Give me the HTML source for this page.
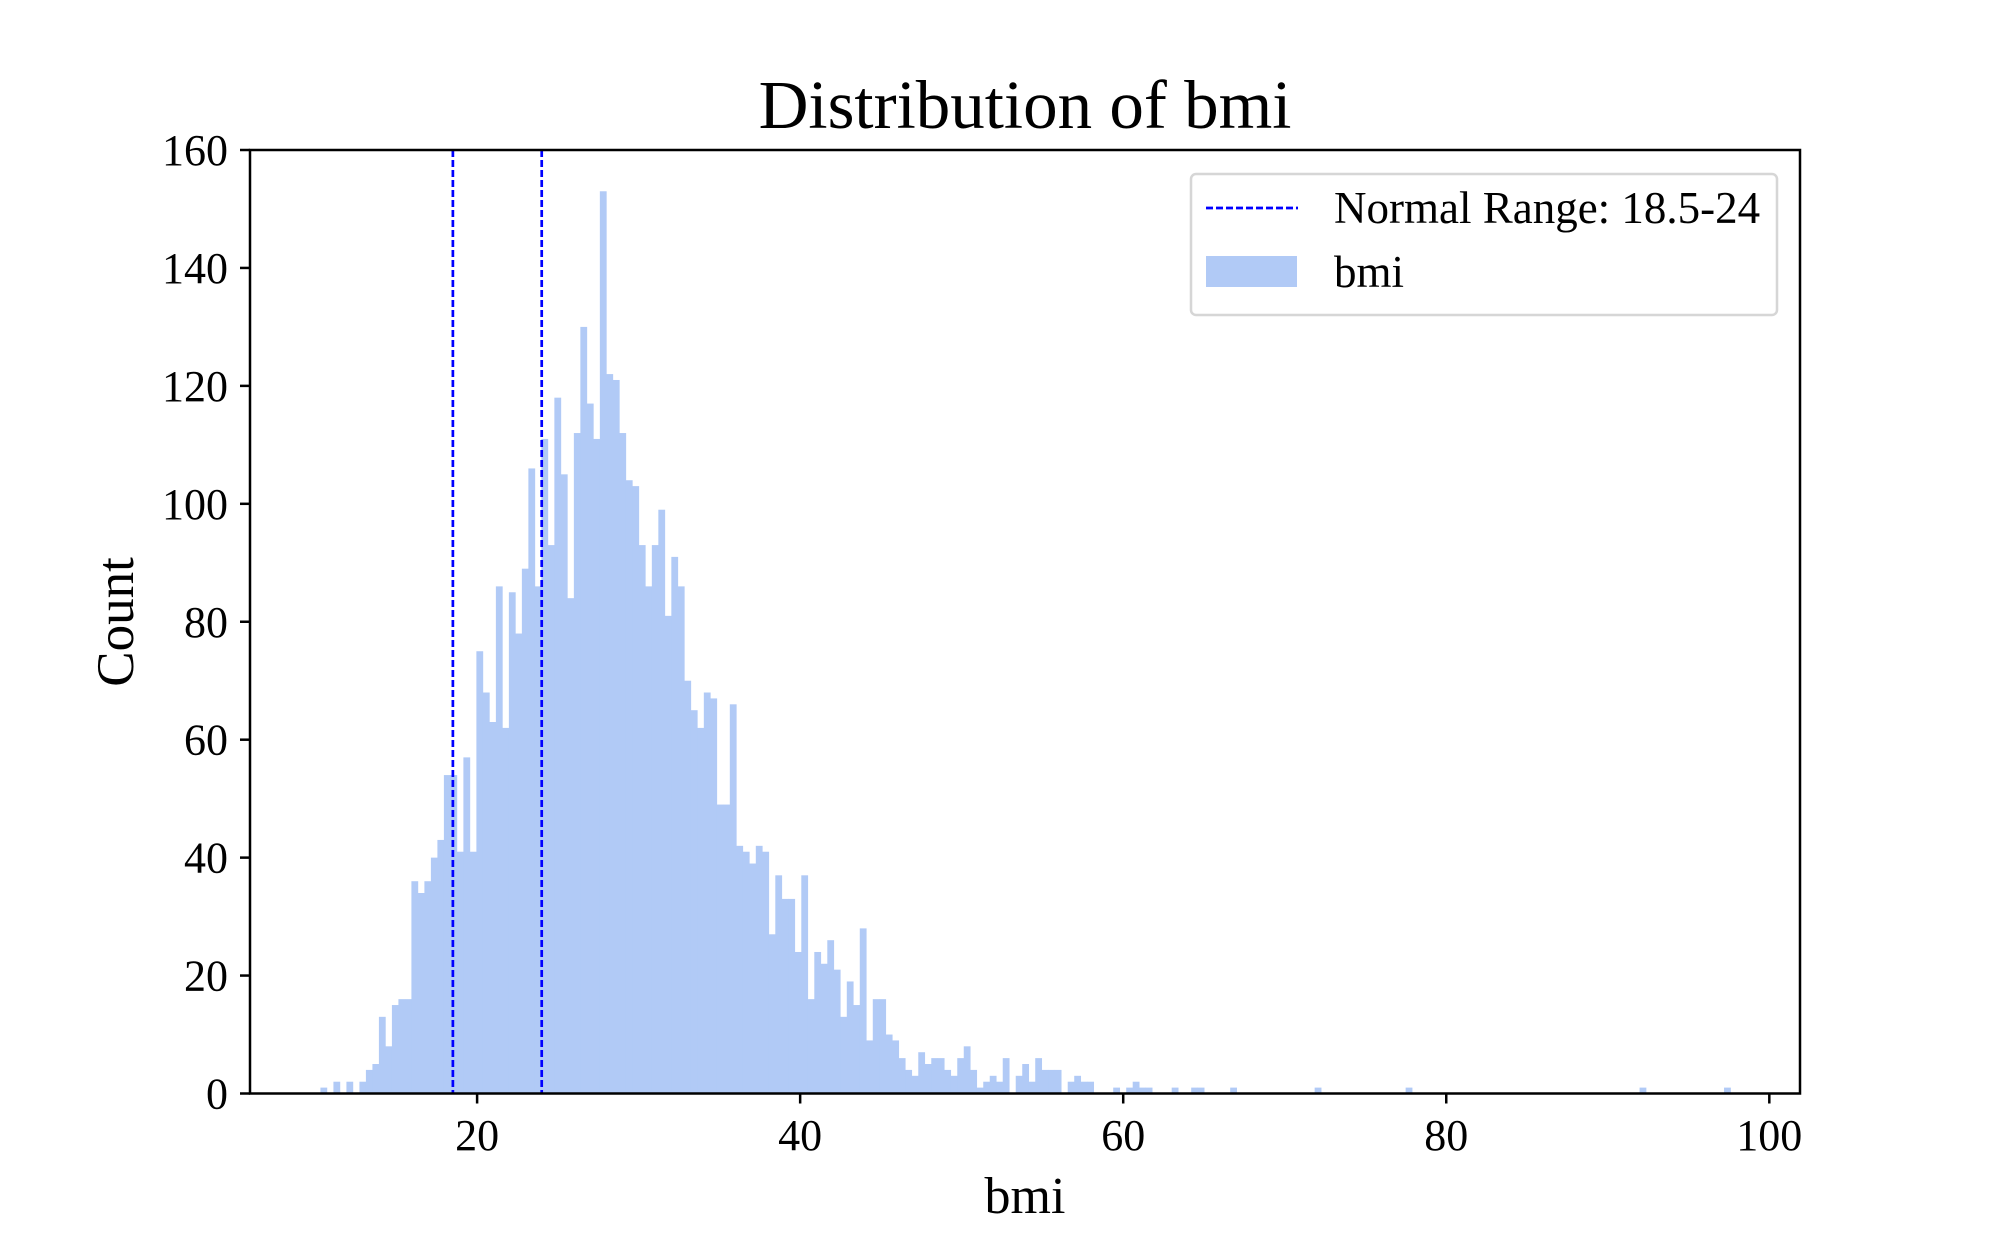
<!DOCTYPE html>
<html>
<head>
<meta charset="utf-8">
<style>
  html, body { margin: 0; padding: 0; background: #ffffff; }
  svg { display: block; }
  text { font-family: "Liberation Serif", "DejaVu Serif", serif; fill: #000; }
</style>
</head>
<body>
<svg id="chart" width="2000" height="1250" viewBox="0 0 2000 1250" xmlns="http://www.w3.org/2000/svg">
  <rect x="0" y="0" width="2000" height="1250" fill="#ffffff"/>
  <text x="1025" y="128" font-size="69" text-anchor="middle">Distribution of bmi</text>
  <g id="bars"></g>
  <g id="vlines"></g>
  <g id="yticks"></g>
  <g id="xticks"></g>
  <rect x="250" y="150" width="1550" height="943.5" fill="none" stroke="#000" stroke-width="2.5"/>
  <text x="1025" y="1213" font-size="52" text-anchor="middle">bmi</text>
  <text x="0" y="0" font-size="53" text-anchor="middle" transform="translate(133,622) rotate(-90)">Count</text>
  <g>
    <rect x="1191" y="174" width="586" height="141" rx="5" fill="#ffffff" fill-opacity="0.8" stroke="#d6d6d6" stroke-width="2.5"/>
    <line x1="1206" y1="208" x2="1298" y2="208" stroke="#0000ff" stroke-width="2.7" stroke-dasharray="7,3"/>
    <text x="1334" y="223" font-size="45">Normal Range: 18.5-24</text>
    <rect x="1206" y="256" width="91" height="31" fill="#b1caf6"/>
    <text x="1334" y="287" font-size="45">bmi</text>
  </g>
</svg>
<script>
const binMin = 10.3;
const binMax = 97.6;
const counts = [1,0,2,0,2,0,2,4,5,13,8,15,16,16,36,34,36,40,43,54,54,41,57,41,75,68,63,86,62,85,78,89,106,86,111,93,118,105,84,112,130,117,111,153,122,121,112,104,103,93,86,93,99,81,91,86,70,65,62,68,67,49,49,66,42,41,39,42,41,27,37,33,33,24,37,16,24,22,26,21,13,19,15,28,9,16,16,10,9,6,4,3,7,5,6,6,4,3,6,8,4,1,2,3,2,6,0,3,5,2,6,4,4,4,0,2,3,2,2,0,0,0,1,0,1,2,1,1,0,0,0,1,0,0,1,1,0,0,0,0,1,0,0,0,0,0,0,0,0,0,0,0,0,1,0,0,0,0,0,0,0,0,0,0,0,0,0,1,0,0,0,0,0,0,0,0,0,0,0,0,0,0,0,0,0,0,0,0,0,0,0,0,0,0,0,0,0,0,0,0,0,0,0,1,0,0,0,0,0,0,0,0,0,0,0,0,1];
const normalRange = [18.5, 24];
const yTicks = [0, 20, 40, 60, 80, 100, 120, 140, 160];
const xTicks = [20, 40, 60, 80, 100];

const NS = 'http://www.w3.org/2000/svg';
const X0 = 250, X1 = 1800, Y0 = 1093.5, Y1 = 150;
const xDomain = [5.94, 101.9];
const yDomain = [0, 160];
function xScale(v) { return X0 + (v - xDomain[0]) / (xDomain[1] - xDomain[0]) * (X1 - X0); }
function yScale(v) { return Y0 - (v - yDomain[0]) / (yDomain[1] - yDomain[0]) * (Y0 - Y1); }

const barsG = document.getElementById('bars');
const nb = counts.length;
const bw = (binMax - binMin) / nb;
counts.forEach((c, i) => {
  if (c <= 0) return;
  const xa = xScale(binMin + i * bw), xb = xScale(binMin + (i + 1) * bw);
  const r = document.createElementNS(NS, 'rect');
  r.setAttribute('x', xa);
  r.setAttribute('width', xb - xa + 0.3);
  r.setAttribute('y', yScale(c));
  r.setAttribute('height', Y0 - yScale(c));
  r.setAttribute('fill', '#b1caf6');
  
  
  barsG.appendChild(r);
});

const vG = document.getElementById('vlines');
normalRange.forEach((v, i) => {
  const l = document.createElementNS(NS, 'line');
  l.setAttribute('x1', xScale(v)); l.setAttribute('x2', xScale(v));
  l.setAttribute('y1', Y1); l.setAttribute('y2', Y0);
  l.setAttribute('stroke', '#0000ff');
  l.setAttribute('stroke-width', '2.7');
  l.setAttribute('stroke-dasharray', '7,3');
  
  
  vG.appendChild(l);
});

const yG = document.getElementById('yticks');
yTicks.forEach(t => {
  const y = yScale(t);
  const l = document.createElementNS(NS, 'line');
  l.setAttribute('x1', X0 - 10); l.setAttribute('x2', X0);
  l.setAttribute('y1', y); l.setAttribute('y2', y);
  l.setAttribute('stroke', '#000'); l.setAttribute('stroke-width', '2.5');
  
  
  yG.appendChild(l);
  const tx = document.createElementNS(NS, 'text');
  tx.setAttribute('x', X0 - 22); tx.setAttribute('y', y + 15);
  tx.setAttribute('font-size', '44'); tx.setAttribute('text-anchor', 'end');
  tx.textContent = t;
  
  
  yG.appendChild(tx);
});

const xG = document.getElementById('xticks');
xTicks.forEach(t => {
  const x = xScale(t);
  const l = document.createElementNS(NS, 'line');
  l.setAttribute('x1', x); l.setAttribute('x2', x);
  l.setAttribute('y1', Y0); l.setAttribute('y2', Y0 + 10);
  l.setAttribute('stroke', '#000'); l.setAttribute('stroke-width', '2.5');
  
  
  xG.appendChild(l);
  const tx = document.createElementNS(NS, 'text');
  tx.setAttribute('x', x); tx.setAttribute('y', 1150);
  tx.setAttribute('font-size', '44'); tx.setAttribute('text-anchor', 'middle');
  tx.textContent = t;
  
  
  xG.appendChild(tx);
});
</script>
</body>
</html>
